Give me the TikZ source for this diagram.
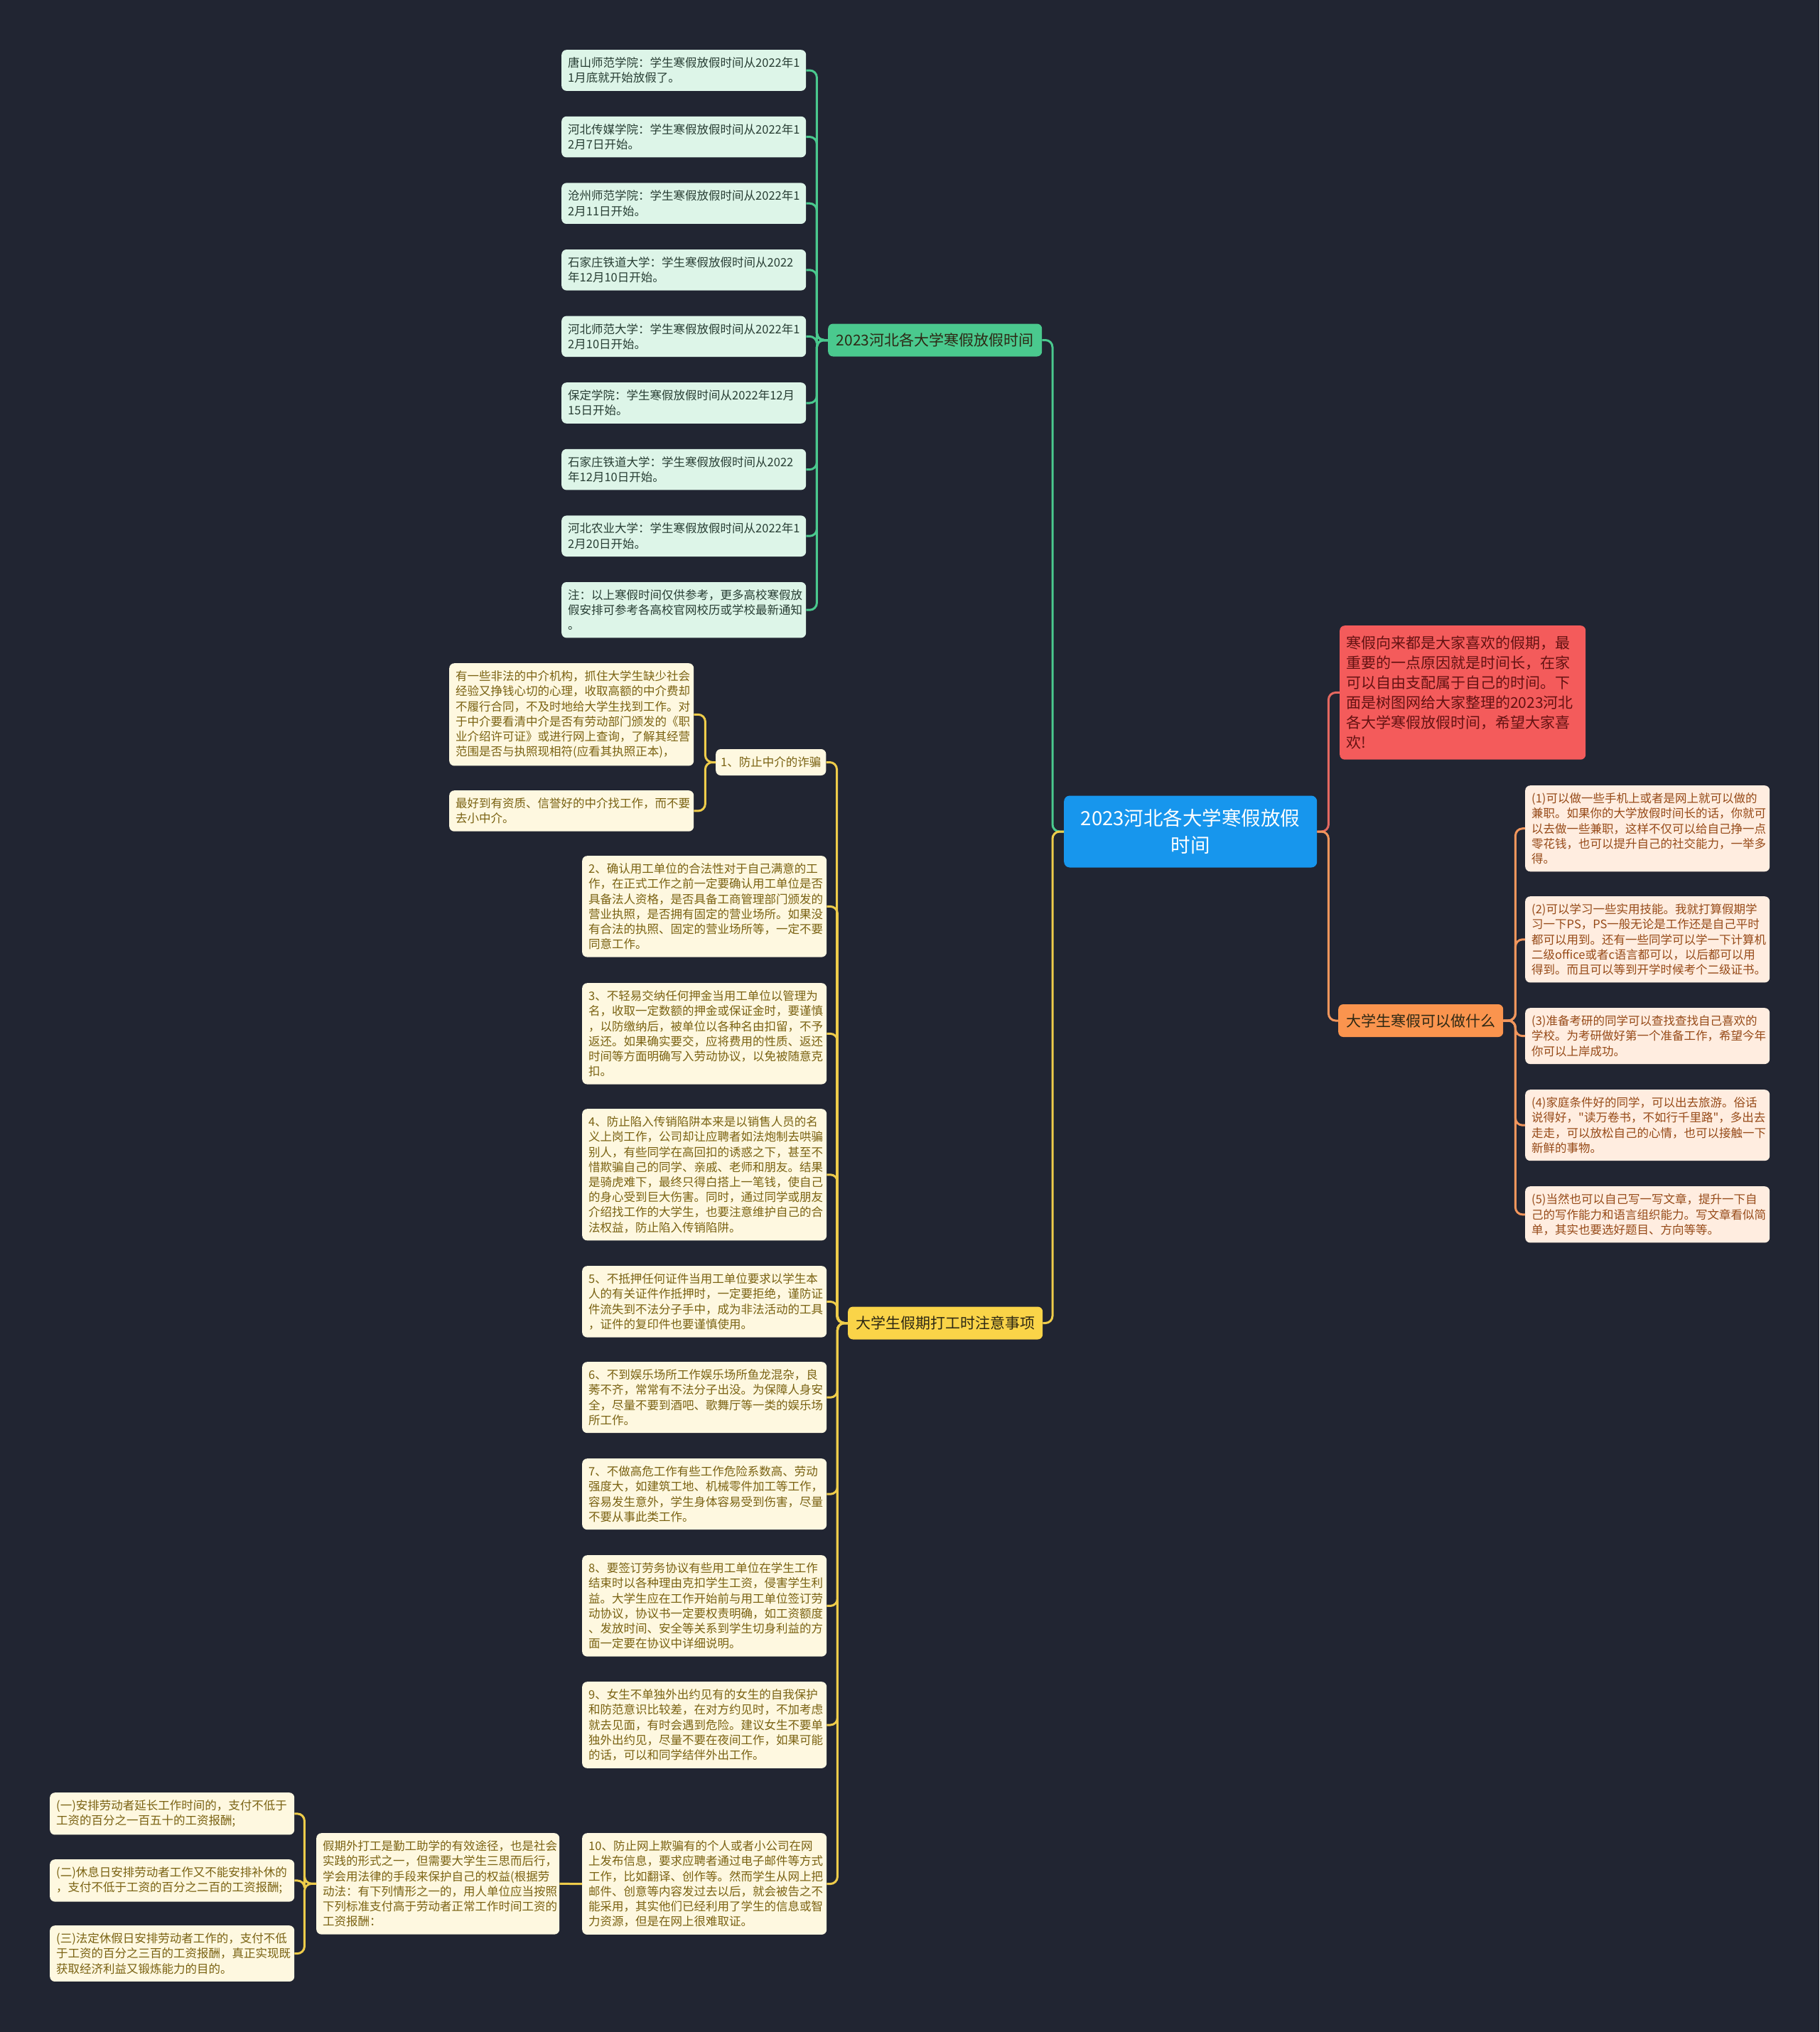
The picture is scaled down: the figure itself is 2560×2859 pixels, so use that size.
\documentclass[tikz,border=0pt]{standalone}
\usepackage{fontspec}
\newfontfamily\cjk{Noto Sans CJK SC}
\definecolor{bg}{RGB}{33,37,50}
\definecolor{gfill}{RGB}{74,201,142}
\definecolor{gleaffill}{RGB}{221,245,232}
\definecolor{gtext}{RGB}{40,62,52}
\definecolor{gline}{RGB}{74,201,142}
\definecolor{yfill}{RGB}{250,212,72}
\definecolor{yleaffill}{RGB}{254,248,224}
\definecolor{ytext}{RGB}{122,98,18}
\definecolor{yline}{RGB}{238,204,74}
\definecolor{ofill}{RGB}{250,148,78}
\definecolor{oleaffill}{RGB}{255,237,224}
\definecolor{otext}{RGB}{150,74,24}
\definecolor{oline}{RGB}{242,150,92}
\definecolor{rfill}{RGB}{244,91,91}
\definecolor{rtext}{RGB}{100,18,18}
\definecolor{rline}{RGB}{228,104,96}
\definecolor{bfill}{RGB}{23,150,237}
\definecolor{darktext}{RGB}{45,40,20}
\begin{document}
\begin{tikzpicture}[x=1pt,y=-1pt,
  leafbase/.style={rectangle, rounded corners=7pt, inner xsep=9pt, inner ysep=10.5pt,
    text width=326pt, align=left, anchor=north west,
    font=\cjk\fontsize{16.5}{21.2}\selectfont},
  gleaf/.style={leafbase, fill=gleaffill, text=gtext},
  yleaf/.style={leafbase, fill=yleaffill, text=ytext},
  oleaf/.style={leafbase, fill=oleaffill, text=otext},
  mainbase/.style={rectangle, rounded corners=7pt, minimum height=46pt, inner xsep=6pt,
    anchor=west, font=\cjk\fontsize{21}{24}\selectfont},
  conn/.style={line width=3pt, rounded corners=10pt},
]
\fill[bg] (0,0) rectangle (2560,2859);

% root
\node[rectangle, rounded corners=8pt, fill=bfill, text=white, minimum width=356pt,
  minimum height=101pt, anchor=west, align=center,
  font=\cjk\fontsize{27.5}{38}\selectfont] (root) at (1497,1170)
  {2023河北各大学寒假放假\\时间};

% green branch
\node[mainbase, fill=gfill, text=darktext, minimum width=301pt] (gm) at (1165,478.5)
  {2023河北各大学寒假放假时间};
\node[gleaf] (g1) at (790,70) {唐山师范学院：学生寒假放假时间从2022年1\\1月底就开始放假了。};
\node[gleaf] (g2) at (790,163.6) {河北传媒学院：学生寒假放假时间从2022年1\\2月7日开始。};
\node[gleaf] (g3) at (790,257.2) {沧州师范学院：学生寒假放假时间从2022年1\\2月11日开始。};
\node[gleaf] (g4) at (790,350.8) {石家庄铁道大学：学生寒假放假时间从2022\\年12月10日开始。};
\node[gleaf] (g5) at (790,444.4) {河北师范大学：学生寒假放假时间从2022年1\\2月10日开始。};
\node[gleaf] (g6) at (790,538) {保定学院：学生寒假放假时间从2022年12月\\15日开始。};
\node[gleaf] (g7) at (790,631.6) {石家庄铁道大学：学生寒假放假时间从2022\\年12月10日开始。};
\node[gleaf] (g8) at (790,725.2) {河北农业大学：学生寒假放假时间从2022年1\\2月20日开始。};
\node[gleaf] (g9) at (790,818.8) {注：以上寒假时间仅供参考，更多高校寒假放\\假安排可参考各高校官网校历或学校最新通知\\。};
\foreach \n in {g1,g2,g3,g4,g5,g6,g7,g8,g9}
  \draw[conn, gline] (\n.east) -- ++(15,0) |- (gm.west);
\draw[conn, gline] (root.west) -- ++(-16,0) |- (gm.east);

% yellow branch
\node[mainbase, fill=yfill, text=darktext, minimum width=274pt] (ym) at (1193,1861.5)
  {大学生假期打工时注意事项};
\node[rectangle, rounded corners=7pt, fill=yleaffill, text=ytext, minimum width=155pt,
  minimum height=37pt, inner xsep=7pt, anchor=west,
  font=\cjk\fontsize{16.5}{21.2}\selectfont] (y1) at (1007,1072.5) {1、防止中介的诈骗};
\node[yleaf] (y1a) at (632,933) {有一些非法的中介机构，抓住大学生缺少社会\\经验又挣钱心切的心理，收取高额的中介费却\\不履行合同，不及时地给大学生找到工作。对\\于中介要看清中介是否有劳动部门颁发的《职\\业介绍许可证》或进行网上查询，了解其经营\\范围是否与执照现相符(应看其执照正本)，};
\node[yleaf] (y1b) at (632,1112) {最好到有资质、信誉好的中介找工作，而不要\\去小中介。};
\node[yleaf] (y2) at (819,1204) {2、确认用工单位的合法性对于自己满意的工\\作，在正式工作之前一定要确认用工单位是否\\具备法人资格，是否具备工商管理部门颁发的\\营业执照，是否拥有固定的营业场所。如果没\\有合法的执照、固定的营业场所等，一定不要\\同意工作。};
\node[yleaf] (y3) at (819,1383) {3、不轻易交纳任何押金当用工单位以管理为\\名，收取一定数额的押金或保证金时，要谨慎\\，以防缴纳后，被单位以各种名由扣留，不予\\返还。如果确实要交，应将费用的性质、返还\\时间等方面明确写入劳动协议，以免被随意克\\扣。};
\node[yleaf] (y4) at (819,1560) {4、防止陷入传销陷阱本来是以销售人员的名\\义上岗工作，公司却让应聘者如法炮制去哄骗\\别人，有些同学在高回扣的诱惑之下，甚至不\\惜欺骗自己的同学、亲戚、老师和朋友。结果\\是骑虎难下，最终只得白搭上一笔钱，使自己\\的身心受到巨大伤害。同时，通过同学或朋友\\介绍找工作的大学生，也要注意维护自己的合\\法权益，防止陷入传销陷阱。};
\node[yleaf] (y5) at (819,1781) {5、不抵押任何证件当用工单位要求以学生本\\人的有关证件作抵押时，一定要拒绝，谨防证\\件流失到不法分子手中，成为非法活动的工具\\，证件的复印件也要谨慎使用。};
\node[yleaf] (y6) at (819,1916) {6、不到娱乐场所工作娱乐场所鱼龙混杂，良\\莠不齐，常常有不法分子出没。为保障人身安\\全，尽量不要到酒吧、歌舞厅等一类的娱乐场\\所工作。};
\node[yleaf] (y7) at (819,2052) {7、不做高危工作有些工作危险系数高、劳动\\强度大，如建筑工地、机械零件加工等工作，\\容易发生意外，学生身体容易受到伤害，尽量\\不要从事此类工作。};
\node[yleaf] (y8) at (819,2188) {8、要签订劳务协议有些用工单位在学生工作\\结束时以各种理由克扣学生工资，侵害学生利\\益。大学生应在工作开始前与用工单位签订劳\\动协议，协议书一定要权责明确，如工资额度\\、发放时间、安全等关系到学生切身利益的方\\面一定要在协议中详细说明。};
\node[yleaf] (y9) at (819,2366) {9、女生不单独外出约见有的女生的自我保护\\和防范意识比较差，在对方约见时，不加考虑\\就去见面，有时会遇到危险。建议女生不要单\\独外出约见，尽量不要在夜间工作，如果可能\\的话，可以和同学结伴外出工作。};
\node[yleaf] (y10) at (819,2579) {10、防止网上欺骗有的个人或者小公司在网\\上发布信息，要求应聘者通过电子邮件等方式\\工作，比如翻译、创作等。然而学生从网上把\\邮件、创意等内容发过去以后，就会被告之不\\能采用，其实他们已经利用了学生的信息或智\\力资源，但是在网上很难取证。};
\node[yleaf, text width=324pt] (jq) at (445,2579) {假期外打工是勤工助学的有效途径，也是社会\\实践的形式之一，但需要大学生三思而后行，\\学会用法律的手段来保护自己的权益(根据劳\\动法：有下列情形之一的，用人单位应当按照\\下列标准支付高于劳动者正常工作时间工资的\\工资报酬：};
\node[yleaf] (k1) at (70,2522) {(一)安排劳动者延长工作时间的，支付不低于\\工资的百分之一百五十的工资报酬;};
\node[yleaf] (k2) at (70,2616) {(二)休息日安排劳动者工作又不能安排补休的\\，支付不低于工资的百分之二百的工资报酬;};
\node[yleaf] (k3) at (70,2709) {(三)法定休假日安排劳动者工作的，支付不低\\于工资的百分之三百的工资报酬，真正实现既\\获取经济利益又锻炼能力的目的。};
\foreach \n in {y1,y2,y3,y4,y5,y6,y7,y8,y9,y10}
  \draw[conn, yline] (\n.east) -- ++(15,0) |- (ym.west);
\foreach \n in {y1a,y1b}
  \draw[conn, yline] (\n.east) -- ++(16,0) |- (y1.west);
\draw[conn, yline] (jq.east) -- (y10.west);
\foreach \n in {k1,k2,k3}
  \draw[conn, yline] (\n.east) -- ++(14,0) |- (jq.west);
\draw[conn, yline] (root.west) -- ++(-16,0) |- (ym.east);

% red node
\node[rectangle, rounded corners=7pt, fill=rfill, text=rtext, inner xsep=9pt,
  inner ysep=14.5pt, text width=328pt, align=left, anchor=north west,
  font=\cjk\fontsize{21}{28}\selectfont] (red) at (1885,880)
  {寒假向来都是大家喜欢的假期，最\\重要的一点原因就是时间长，在家\\可以自由支配属于自己的时间。下\\面是树图网给大家整理的2023河北\\各大学寒假放假时间，希望大家喜\\欢!};
\draw[conn, rline] (root.east) -- ++(16,0) |- (red.west);

% orange branch
\node[mainbase, fill=ofill, text=darktext, minimum width=232pt] (om) at (1883,1436)
  {大学生寒假可以做什么};
\node[oleaf] (o1) at (2146,1105) {(1)可以做一些手机上或者是网上就可以做的\\兼职。如果你的大学放假时间长的话，你就可\\以去做一些兼职，这样不仅可以给自己挣一点\\零花钱，也可以提升自己的社交能力，一举多\\得。};
\node[oleaf] (o2) at (2146,1261) {(2)可以学习一些实用技能。我就打算假期学\\习一下PS，PS一般无论是工作还是自己平时\\都可以用到。还有一些同学可以学一下计算机\\二级office或者c语言都可以，以后都可以用\\得到。而且可以等到开学时候考个二级证书。};
\node[oleaf] (o3) at (2146,1418) {(3)准备考研的同学可以查找查找自己喜欢的\\学校。为考研做好第一个准备工作，希望今年\\你可以上岸成功。};
\node[oleaf] (o4) at (2146,1533) {(4)家庭条件好的同学，可以出去旅游。俗话\\说得好，"读万卷书，不如行千里路"，多出去\\走走，可以放松自己的心情，也可以接触一下\\新鲜的事物。};
\node[oleaf] (o5) at (2146,1669) {(5)当然也可以自己写一写文章，提升一下自\\己的写作能力和语言组织能力。写文章看似简\\单，其实也要选好题目、方向等等。};
\foreach \n in {o1,o2,o3,o4,o5}
  \draw[conn, oline] (om.east) -- ++(17,0) |- (\n.west);
\draw[conn, oline] (root.east) -- ++(16,0) |- (om.west);
\end{tikzpicture}
\end{document}
